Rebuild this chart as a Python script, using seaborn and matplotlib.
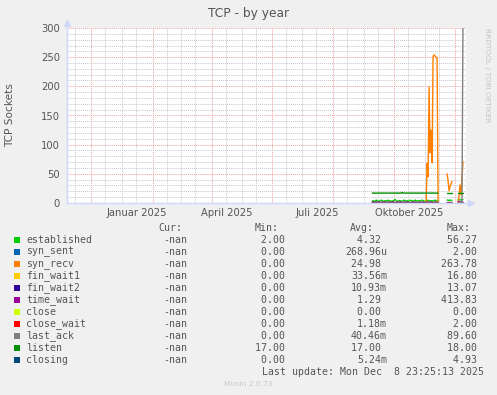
import pandas as pd
import matplotlib
matplotlib.use("Agg")
import matplotlib.pyplot as plt
import matplotlib.dates as mdates
from matplotlib.ticker import MultipleLocator, NullFormatter
from matplotlib.patches import Rectangle
import seaborn as sns

N = None

# ---------------- data (daily values) ----------------
dates = pd.date_range("2025-09-09", "2025-12-09", freq="D")

series_names = ["established", "syn_sent", "syn_recv", "fin_wait1", "fin_wait2",
                "time_wait", "close", "close_wait", "last_ack", "listen", "closing"]
series_colors = ["#00CC00", "#0066B3", "#FF8000", "#FFCC00", "#330099",
                 "#990099", "#CCFF00", "#FF0000", "#808080", "#008F00", "#00487D"]

established = [3, 4, 3, 3, 5, 4, 3, 3, 4, 5,
               4, 3, 3, 4, 4, 3, 5, 4, 3, 3,
               4, 3, 5, 6, 4, 3, 3, 4, 4, 3,
               3, 4, 5, 4, 3, 4, 3, 3, 5, 4,
               4, 3, 4, 5, 4, 3, 4, 4, 3, 4,
               5, 4, 3, 3, 4, 4, 5, 4, 3, 4,
               4, 3, 4, 5, 4, 3, 4,
               N, N, N, N, N, N, N, N,
               5, 5, 4, 5, 5, 4,
               N, N, N, N, N,
               6, 5, 5, 6, 5, 6]
syn_recv = [0] * 55 + [68, 45, 199, 86, 125, 69, 251, 254, 252, 250, 248, 0,
                       N, N, N, N, N, N, N, N,
                       50, 39, 21, 28, 33, 37,
                       N, N, N, N, N,
                       0, 12, 31, 14, 43, 71]
time_wait = [1, 2, 1, 0, 2, 1, 1, 2, 0, 1,
             2, 1, 1, 2, 1, 0, 1, 2, 1, 1,
             1, 2, 1, 1, 0, 2, 1, 1, 2, 1,
             1, 0, 2, 1, 1, 2, 1, 1, 0, 1,
             2, 1, 1, 2, 1, 0, 1, 1, 2, 1,
             1, 2, 1, 0, 1, 1, 2, 1, 1, 2,
             1, 1, 0, 2, 1, 1, 1,
             N, N, N, N, N, N, N, N,
             1, 0, 1, 1, 0, 1,
             N, N, N, N, N,
             2, 2, 1, 2, 2, 1]
listen = ([17] * 30 + [18] + [17] * 36 + [N] * 8 + [17] * 6 + [N] * 5 + [17] * 6)
last_ack = ([0] * 67 + [N] * 8 + [0] * 6 + [N] * 5 + [0, 0, 0, 0, 0, 320])
fin_wait2 = ([0] * 20 + [1] + [0] * 25 + [1] + [0] * 20 + [N] * 8 + [0] * 6 + [N] * 5 + [0] * 6)
zero_line = ([0] * 67 + [N] * 8 + [0] * 6 + [N] * 5 + [0] * 6)
syn_sent = zero_line
fin_wait1 = zero_line
close = zero_line
close_wait = zero_line
closing = zero_line

values = {"established": established, "syn_sent": syn_sent, "syn_recv": syn_recv,
          "fin_wait1": fin_wait1, "fin_wait2": fin_wait2, "time_wait": time_wait,
          "close": close, "close_wait": close_wait, "last_ack": last_ack,
          "listen": listen, "closing": closing}

cur_vals = ["-nan"] * 11
min_vals = ["2.00 ", "0.00 ", "0.00 ", "0.00 ", "0.00 ", "0.00 ", "0.00 ", "0.00 ", "0.00 ", "17.00 ", "0.00 "]
avg_vals = ["4.32 ", "268.96u", "24.98 ", "33.56m", "10.93m", "1.29 ", "0.00 ", "1.18m", "40.46m", "17.00 ", "5.24m"]
max_vals = ["56.27 ", "2.00 ", "263.78 ", "16.80 ", "13.07 ", "413.83 ", "0.00 ", "2.00 ", "89.60 ", "18.00 ", "4.93 "]

month_labels = ["Januar 2025", "April 2025", "Juli 2025", "Oktober 2025"]
label_dates = pd.to_datetime(["2025-01-16", "2025-04-16", "2025-07-16", "2025-10-16"])

# ---------------- long data frame ----------------
frames = []
for name in series_names:
    s = pd.Series(values[name], index=dates, dtype="float")
    seg = s.isna().cumsum()
    d = pd.DataFrame({"date": dates, "value": s.values, "series": name, "seg": seg.values})
    frames.append(d.dropna(subset=["value"]))
df = pd.concat(frames, ignore_index=True)

# ---------------- figure ----------------
W, H = 497, 395
sns.set_style("white")
plt.rcParams["font.family"] = ["DejaVu Sans"]
fig = plt.figure(figsize=(W / 100, H / 100), dpi=100, facecolor="#F0F0F0")
ax = fig.add_axes([67 / W, 1 - 203 / H, 399 / W, 175 / H])
ax.set_facecolor("white")

sns.lineplot(data=df, x="date", y="value", hue="series", hue_order=series_names,
             palette=dict(zip(series_names, series_colors)), units="seg",
             estimator=None, linewidth=1.0, legend=False, ax=ax)

ax.set_xlim(pd.Timestamp("2024-11-07"), pd.Timestamp("2025-12-12"))
ax.set_ylim(0, 300)
ax.set_xlabel("")
ax.set_ylabel("")

ax.xaxis.set_major_locator(mdates.MonthLocator(bymonth=[2, 4, 6, 8, 10, 12]))
ax.xaxis.set_minor_locator(mdates.MonthLocator(bymonthday=[1, 15]))
ax.xaxis.set_major_formatter(NullFormatter())
ax.xaxis.set_minor_formatter(NullFormatter())
ax.yaxis.set_major_locator(MultipleLocator(50))
ax.yaxis.set_minor_locator(MultipleLocator(10))

ax.grid(which="major", color="#F0A0A0", linestyle=(0, (1, 1)), linewidth=0.7)
ax.grid(which="minor", color="#C8C8C8", linestyle=(0, (1, 1)), linewidth=0.7)
ax.set_axisbelow(True)

ax.tick_params(axis="both", which="major", length=2, width=0.7, color="#F0A0A0",
               labelcolor="#555555", labelsize=7.2, pad=3)
ax.tick_params(axis="both", which="minor", length=2, width=0.7, color="#BBBBBB")

for side in ["top", "right"]:
    ax.spines[side].set_visible(False)
for side in ["left", "bottom"]:
    ax.spines[side].set_color("#CFD6F8")
    ax.spines[side].set_linewidth(1.0)

ax.plot([0], [1.03], marker="^", ms=4.5, color="#CFD6F8", transform=ax.transAxes, clip_on=False)
ax.plot([1.012], [0], marker=">", ms=4.5, color="#CFD6F8", transform=ax.transAxes, clip_on=False)

for d, lab in zip(label_dates, month_labels):
    ax.text(d, -0.055, lab, transform=ax.get_xaxis_transform(), ha="center", va="center",
            fontsize=7.2, color="#555555")

# ---------------- texts ----------------
def fx(x):
    return x / W

def fy(y):
    return 1 - y / H

fig.text(0.5, fy(13), "TCP - by year", ha="center", va="center", fontsize=8.8, color="#555555")
fig.text(fx(10), fy(115), "TCP Sockets", ha="center", va="center", rotation=90,
         fontsize=7.6, color="#555555")
fig.text(fx(487), fy(28), "RRDTOOL / TOBI OETIKER", ha="center", va="top", rotation=270,
         fontsize=5.3, color="#C4C4C4")
fig.text(0.5, fy(384), "Munin 2.0.73", ha="center", va="center", fontsize=5.3, color="#C8C8C8")

mono = dict(family="DejaVu Sans Mono", fontsize=7.1, color="#555555", va="center")
fig.text(fx(158), fy(228), "Cur:", ha="left", **mono)
fig.text(fx(255), fy(228), "Min:", ha="left", **mono)
fig.text(fx(350), fy(228), "Avg:", ha="left", **mono)
fig.text(fx(447), fy(228), "Max:", ha="left", **mono)

for i, name in enumerate(series_names):
    y = 240 + 12 * i
    fig.patches.append(Rectangle((fx(14), fy(y + 3)), 6 / W, 6 / H, transform=fig.transFigure,
                                 facecolor=series_colors[i], edgecolor="none"))
    fig.text(fx(26), fy(y), name, ha="left", **mono)
    fig.text(fx(187), fy(y), cur_vals[i], ha="right", **mono)
    fig.text(fx(291), fy(y), min_vals[i], ha="right", **mono)
    fig.text(fx(387), fy(y), avg_vals[i], ha="right", **mono)
    fig.text(fx(483), fy(y), max_vals[i], ha="right", **mono)

fig.text(fx(262), fy(372), "Last update: Mon Dec  8 23:25:13 2025", ha="left", **mono)

fig.savefig("out.png", dpi=100, facecolor=fig.get_facecolor())
